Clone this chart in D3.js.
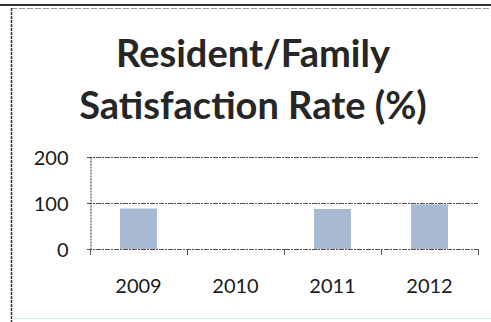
<!DOCTYPE html>
<html>
<head>
<meta charset="utf-8">
<script src="https://cdn.jsdelivr.net/npm/d3@7"></script>
<style>
  body { margin: 0; background: #fff; }
  text { font-family: Lato, "Open Sans", sans-serif; fill: #1a1a1a; }
</style>
</head>
<body>
<div id="chart"></div>
<script>
var svgWidth = 491;
var svgHeight = 322;

// data
var years = ["2009", "2010", "2011", "2012"];
var rates = [88, 0, 87, 97];
var yTicks = [0, 100, 200];
var titleLines = ["Resident/Family", "Satisfaction Rate (%)"];

var margin = { top: 157, right: 13, bottom: 73, left: 90 };
var width = svgWidth - margin.left - margin.right;
var height = svgHeight - margin.top - margin.bottom;

var svg = d3.select("#chart")
	.append("svg")
	.attr("width", svgWidth)
	.attr("height", svgHeight);

// scanned frame edges
svg.append("line")
	.attr("x1", 0).attr("x2", svgWidth)
	.attr("y1", 5).attr("y2", 5)
	.attr("stroke", "#333").attr("stroke-width", 2);
svg.append("line")
	.attr("x1", 11).attr("x2", svgWidth)
	.attr("y1", 8.5).attr("y2", 8.5)
	.attr("stroke", "#999").attr("stroke-width", 1)
	.attr("stroke-dasharray", "6,2");
svg.append("line")
	.attr("x1", 11.5).attr("x2", 11.5)
	.attr("y1", 8).attr("y2", svgHeight)
	.attr("stroke", "#333").attr("stroke-width", 1.5)
	.attr("stroke-dasharray", "3,1");
svg.append("line")
	.attr("x1", 12).attr("x2", svgWidth)
	.attr("y1", 318.5).attr("y2", 318.5)
	.attr("stroke", "#d8f0f0").attr("stroke-width", 1);

// title
svg.selectAll(".title")
	.data(titleLines)
	.enter()
	.append("text")
	.attr("class", "title")
	.attr("x", 253)
	.attr("y", (d, i) => 67 + i * 52)
	.attr("text-anchor", "middle")
	.style("font-size", "38px")
	.style("font-weight", "bold")
	.style("fill", "#262626")
	.text(d => d);

var chartGroup = svg.append("g")
	.attr("transform", `translate(${margin.left}, ${margin.top})`);

var xScale = d3.scaleBand()
	.domain(years)
	.range([0, width])
	.paddingInner(0.62)
	.paddingOuter(0.31);

var yScale = d3.scaleLinear()
	.domain([0, 200])
	.range([height, 0]);

// gridlines
chartGroup.append("g")
	.selectAll("line")
	.data(yTicks)
	.enter()
	.append("line")
	.attr("x1", -3)
	.attr("x2", width)
	.attr("y1", d => yScale(d) + 0.5)
	.attr("y2", d => yScale(d) + 0.5)
	.attr("stroke", "#5a4a4a")
	.attr("stroke-width", 1)
	.attr("stroke-dasharray", "5,1,2,1");

// bars
chartGroup.selectAll("rect")
	.data(rates)
	.enter()
	.append("rect")
	.attr("x", (d, i) => xScale(years[i]))
	.attr("y", d => yScale(d))
	.attr("width", xScale.bandwidth())
	.attr("height", d => height - yScale(d))
	.attr("fill", "#a8b9d3");

// y axis
var leftAxis = d3.axisLeft(yScale)
	.tickValues(yTicks)
	.tickSize(0)
	.tickPadding(22);

var yAxis = chartGroup.append("g")
	.attr("transform", "translate(0.5, 0)")
	.call(leftAxis);
yAxis.select(".domain")
	.attr("stroke", "#333")
	.attr("stroke-dasharray", "2,1");
yAxis.selectAll("text")
	.style("font-size", "20px")
	.style("fill", "#1a1a1a")
	.attr("dy", "0.36em");

// x axis
var bottomAxis = d3.axisBottom(xScale)
	.tickSize(0)
	.tickPadding(30);

var xAxis = chartGroup.append("g")
	.attr("transform", `translate(0, ${height})`)
	.call(bottomAxis);
xAxis.select(".domain").remove();
xAxis.selectAll("text")
	.style("font-size", "20px")
	.style("fill", "#1a1a1a");

// small boundary ticks between categories
var step = xScale.step();
chartGroup.append("g")
	.selectAll("line")
	.data(d3.range(years.length + 1))
	.enter()
	.append("line")
	.attr("x1", d => Math.round(d * step) + 0.5)
	.attr("x2", d => Math.round(d * step) + 0.5)
	.attr("y1", height)
	.attr("y2", height + 6)
	.attr("stroke", "#555")
	.attr("stroke-width", 1);
</script>
</body>
</html>
